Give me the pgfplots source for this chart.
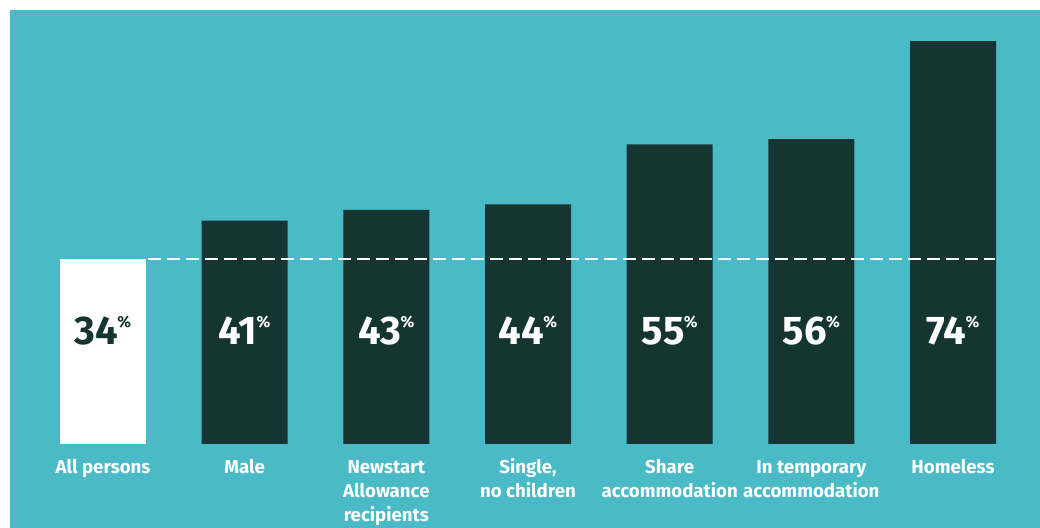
\documentclass[border=0pt]{standalone}
\usepackage{pgfplots}
\pgfplotsset{compat=1.18}
\usepackage{fontspec}
\setmainfont{Fira Sans}
\definecolor{bg}{RGB}{74,186,198}
\definecolor{dk}{RGB}{20,53,50}
\newcommand{\pct}[1]{\fontsize{30}{30}\selectfont\bfseries #1\hspace{-0.5pt}\raisebox{12.6pt}{\fontsize{12}{12}\selectfont\bfseries\%}}
\newcommand{\lab}[1]{\begin{tabular}{@{}c@{}}#1\end{tabular}}
\begin{document}
\begin{tikzpicture}[x=0.75pt,y=0.75pt]
\useasboundingbox (0,0) rectangle (1040,528);
\fill[white] (0,0) rectangle (1040,528);
\fill[bg] (10,0) rectangle (1040,518);
\begin{axis}[
  at={(24.13pt,63pt)}, anchor=south west,
  scale only axis, width=743.75pt, height=302.25pt,
  xmin=-0.5, xmax=6.5, ymin=0, ymax=74,
  clip=false,
  axis line style={draw=none},
  tick style={draw=none},
  ytick=\empty,
  xtick={0,1,2,3,4,5,6},
  xticklabels={\lab{All persons}, \lab{Male}, \lab{Newstart\\Allowance\\recipients}, \lab{Single,\\no children}, \lab{Share\\accommodation}, \lab{In temporary\\accommodation}, \lab{Homeless}},
  xticklabel style={font=\fontsize{14}{18}\selectfont\bfseries, text=white, anchor=north, inner sep=0pt, yshift=-9.2pt},
]
\addplot[ybar, bar width=64.5pt, fill=white, draw=none] coordinates {(0,34)};
\addplot[ybar, bar width=64.5pt, fill=dk, draw=none] coordinates {(1,41) (2,43) (3,44) (4,55) (5,56) (6,74)};
\addplot[white, line width=1.5pt, dash pattern=on 9.75pt off 4.5pt] coordinates {(0.318,34) (6.296,34)};
\addplot[draw=none, mark=none, point meta=explicit symbolic,
  nodes near coords={\pct{\pgfplotspointmeta}},
  every node near coord/.append style={anchor=base, text=dk, inner sep=0pt}]
  coordinates {(0,18.36)[34]};
\addplot[draw=none, mark=none, point meta=explicit symbolic,
  nodes near coords={\pct{\pgfplotspointmeta}},
  every node near coord/.append style={anchor=base, text=white, inner sep=0pt}]
  coordinates {(1,18.36)[41] (2,18.36)[43] (3,18.36)[44] (4,18.36)[55] (5,18.36)[56] (6,18.36)[74]};
\end{axis}
\end{tikzpicture}
\end{document}
